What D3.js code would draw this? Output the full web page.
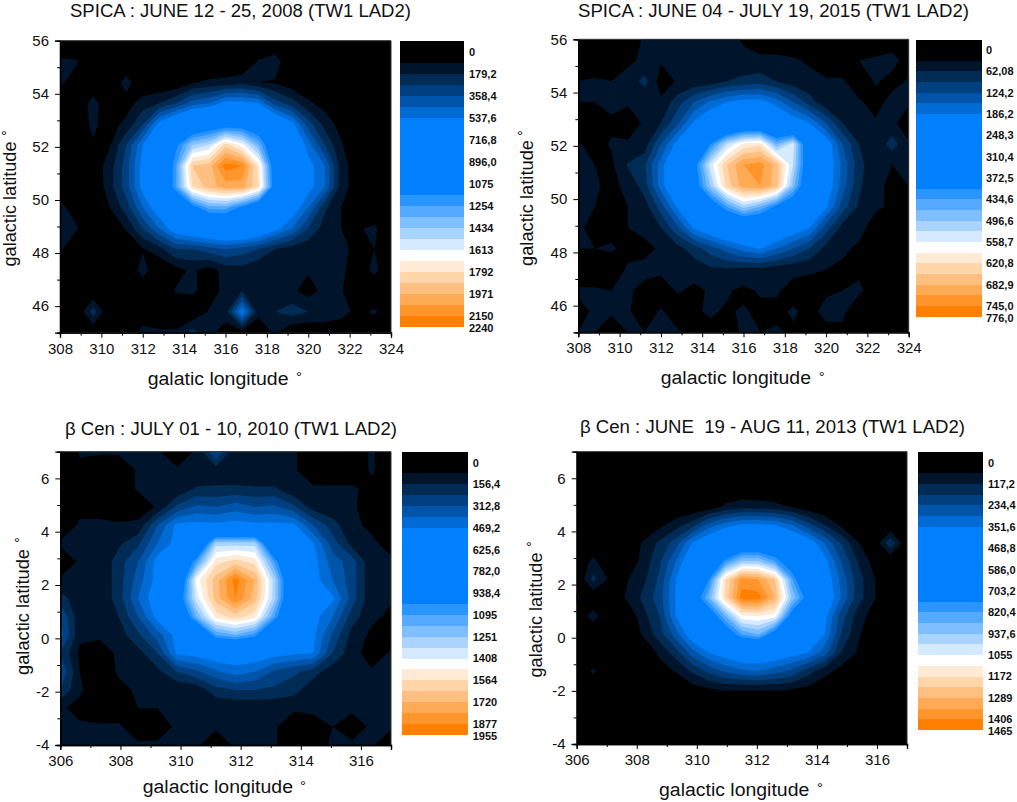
<!DOCTYPE html>
<html>
<head>
<meta charset="utf-8">
<script src="https://cdnjs.cloudflare.com/ajax/libs/d3/7.8.5/d3.min.js"></script>
<style>
  html, body { margin: 0; padding: 0; background: #fff; }
  text { font-family: "Liberation Sans", Arial, sans-serif; fill: #111; }
</style>
</head>
<body>
<div id="chart"></div>
<script>
var bandColors = ["#000000","#000000","#00152b","#002b55","#004080","#0055aa","#006bd5",
    "#0080ff","#0080ff","#0080ff","#0080ff","#0080ff","#0080ff","#0080ff",
    "#2b95ff","#55aaff","#80bfff","#aad4ff","#d5eaff","#ffffff",
    "#ffead5","#ffd5aa","#ffbf80","#ffaa55","#ff952b","#ff8000"];

var labels2008 = ["0","179,2","358,4","537,6","716,8","896,0","1075","1254","1434","1613","1792","1971","2150","2240"];
var labels2015 = ["0","62,08","124,2","186,2","248,3","310,4","372,5","434,6","496,6","558,7","620,8","682,9","745,0","776,0"];
var labels2010 = ["0","156,4","312,8","469,2","625,6","782,0","938,4","1095","1251","1408","1564","1720","1877","1955"];
var labels2013 = ["0","117,2","234,4","351,6","468,8","586,0","703,2","820,4","937,6","1055","1172","1289","1406","1465"];

var spicaLon = [308, 324], spicaLat = [45, 56];
var cenLon = [306, 317], cenLat = [-4, 7];
var spicaLatMajor = [46,48,50,52,54,56], spicaLatMinor = [45,47,49,51,53,55];
var cenLatMajor = [-4,-2,0,2,4,6], cenLatMinor = [-3,-1,1,3,5,7];

var grid2008 = [
 [0,0,0,0,0,0,0,0,0,0,0,0,0,0,0,0,0,0,0,0,0],
 [1.2,1.1,0,0,0,0,0,0,0,0,0,0,1.1,1.5,0,0,0,0,0,0,0],
 [1.2,.5,0,0,1.5,0,0,0,.9,1.2,1.3,1.6,1,.9,.3,0,0,0,0,0,0],
 [0,0,1.5,0,.5,1.5,2,3,4.5,5,6.5,6.5,6,3.5,2.5,1.2,.6,0,0,0,0],
 [1.1,.4,1.2,.5,1.3,3,6.5,8.5,10,11,11.5,11.5,10.5,8.5,6.5,3.5,1.6,.6,0,0,0],
 [0,.3,.9,.9,3,6,8,12.5,16,17,20.5,18.5,15,10,8,5.5,3,1.1,0,0,0],
 [0,0,.3,1.5,3.5,6.5,8.5,14,21,21.5,24.5,24,19.5,11,8.5,6.5,5,1.5,.3,0,0],
 [0,0,0,1.6,3.5,6.5,9,14,20,21.5,22.5,22.5,20,11.5,8.5,6.5,5,1.4,.5,0,0],
 [1.3,.5,0,1,2.5,5,7,9,12,14.5,14.5,12.5,10,8.5,7,5,2.2,1,.3,0,0],
 [1.5,1.1,0,0,1.1,3,5,7,8,8.5,9,9,8,6.5,5,3,1.5,1,.9,1.2,0],
 [1.2,0,0,0,0,.9,1.6,3,3,3.5,4,3.5,3,2,1.5,1.2,1,1.6,.3,1,0],
 [0,0,0,0,0,1.5,0,.6,1.2,.5,1.4,1.6,1,1.1,1,1.1,1.2,1.2,.4,1.3,0],
 [0,0,0,0,0,0,0,1.1,1.2,.5,1.3,2,1.1,1.1,1.2,.6,1.3,1.1,0,0,0],
 [0,0,2.5,0,0,0,0,0,0,1.1,1.5,6.2,1.2,2,2.5,2,2,1.5,.6,1.2,0],
 [0,0,0,0,0,1.5,1.2,1.2,2.5,1.3,.5,.4,.5,1.1,0,0,0,0,0,0,0]
];
var grid2015 = [
 [0,0,0,.5,1.1,1.1,1.2,1.2,1.3,1.3,.9,.5,.5,.4,.5,.5,.5,.3,.5,.5,.5],
 [.2,.5,.3,.9,1.1,1.1,1.2,1.2,1.2,1.2,1.2,1.2,1.2,1.1,.9,.5,.5,1,1.1,1.3,.6],
 [1,1.1,1,1.2,2.4,.5,1.1,1.2,1.4,2,2.3,2.5,2,1.4,1.2,1.1,1.1,.5,1.1,.7,1.1],
 [1,1,1.3,1.1,1.1,1.2,2.5,4,5.2,6,6.5,6.5,5.5,4,2.5,1.2,1.1,1.1,.7,1.3,1.1],
 [.5,.4,.8,.6,1.1,2,3.8,6.2,7.5,8,9,9,8,7,6,4,2,1.6,1.1,1.2,.5],
 [1.1,.6,1.1,1.1,1.4,4,6.5,9,13,17,19.2,19.6,15,17.5,10,7,4,2,1.2,2.5,1.1],
 [1.1,1,.8,2.1,2.8,5.5,8,12,17.5,21,23,23.5,21.5,17,10.5,7.2,4.7,2.4,1.1,1,1],
 [1,1.1,.8,1.2,2.5,5.5,8,11.5,16,20.5,22.5,23,21.5,15.5,10,7,4.5,2.2,1.1,.9,1],
 [1.1,1,.9,1,1.5,3.5,6.2,8.5,11,14,16.5,15,12.5,10.5,8,6.2,3.5,1.8,1.1,.9,.8],
 [1.1,.8,.7,1,1.2,2,3.8,6.2,7.5,8.5,9,9,8,7,6,3.5,1.6,1.2,.7,.8,.6],
 [1,1,1.1,.8,.8,1.1,1.6,2.5,3.5,4.5,5.5,6.1,5,4,3,1.6,1.1,.9,.8,.6,.6],
 [.5,.4,.5,1.1,1.2,1.2,1.2,1.4,1.8,1.8,1.7,1.6,1.4,1.2,1.1,1,.9,.9,.6,.6,.5],
 [1.1,1.1,1,1.1,.8,.5,1.1,.8,1.1,1.1,.8,1.1,1.1,.7,.7,.9,1,1.1,.7,.7,.8],
 [.8,1.1,1.1,1.1,.5,1.1,.5,.9,1.1,.9,1.1,.8,.8,1.1,.8,1.2,1.1,.6,.8,.8,.8],
 [1,1,.6,1,1,1.1,1.1,.7,.8,.7,1.1,1,1.1,.9,.8,.8,.9,.8,.8,.8,.8]
];
var grid2010 = [
 [0,1.1,1.1,1.1,1.1,1.1,.5,1.1,4,1.2,1.1,1.1,1.1,.5,.5,.5,1.1,.5],
 [.5,.8,.5,.5,1.1,1.1,1.1,1.1,1.5,1.1,1.1,1.1,1.1,.5,.5,.5,1.1,.5],
 [1.1,.5,.5,.5,1.1,1.1,1.1,2.1,2.1,2.2,2.1,2.1,1.1,1.1,1.1,1.1,.8,.5],
 [.5,.8,.8,.5,.5,1.1,3.2,4.2,4,4.5,4,4.2,3.2,1.5,1.1,1.1,.7,.5],
 [.5,1.1,1.1,1.1,1.2,4,6.3,6.4,6.3,6.5,6.3,6.3,6.2,4,2.5,1.1,.9,.6],
 [1.1,1.1,1.1,1.8,2.8,5,6.5,8,16.5,16.5,16.5,8.5,6.5,6.1,3.5,1.6,1.1,.8],
 [.5,1.1,1.1,2.5,4,6.5,9,14,19.6,20.5,19.6,14,8,6.5,4.5,3.5,1.2,1.1],
 [1.1,1.1,1.1,2.5,4.5,6.5,9,18.5,21.5,24.5,22,16.5,9,6.5,5,3.5,1.2,1.1],
 [2.5,1.2,1.1,2.5,5,7,11,17.5,21.5,24,21.5,16.5,9,7,6.2,3.5,1.2,1.1],
 [4,1.3,1.1,2,4,6.5,9,15,19.4,20.5,19.4,14,8,6.5,5,2.5,1.2,.8],
 [4.5,1.2,1.1,1.5,2.8,4.5,6.5,8,14,15,13.5,8,7,6.3,3.8,1.6,.8,.5],
 [3,.8,.7,1.1,1.6,3,6.2,6.5,7,7,7,6.5,6.2,6,3,1.3,.6,1.1],
 [4,1,.5,1.1,1.1,1.7,3,3.8,4.8,5.5,5,3.8,3.2,2.5,1.3,1.1,1.1,1.1],
 [3,1.1,.5,.8,1.1,1.1,1.1,1.3,2.6,3,3,2.8,2.4,1.2,1.1,1.1,1.1,1.1],
 [1.1,.8,.5,.6,1,1,1.1,1.1,1.1,1.1,1.1,1.1,1.1,1.1,1.1,1.1,1.1,1.1],
 [1.1,1.1,1.1,1.1,.6,.7,1.1,1.1,1.1,1.1,1.1,1.1,.5,.8,1,.7,1.1,1.1],
 [1.1,1.1,1.1,1.1,1.1,1.1,1.1,1.1,.6,1.1,1.1,1.1,.5,.7,1.1,1.1,1.1,.5]
];
var grid2013 = [
 [0,0,0,0,0,0,0,0,0,0,0,0,0,0,0,0,0,0,0,0,0],
 [0,0,0,0,0,0,0,0,0,0,0,0,0,0,0,0,0,0,0,0,0],
 [0,0,0,0,0,0,0,0,0,0,0,0,0,0,0,0,0,0,0,0,0],
 [0,0,0,0,0,0,0,0,.3,1.2,1.6,1.5,1.3,.9,.3,0,0,0,0,0,0],
 [0,0,0,0,.1,.7,1.5,2.5,4.4,5.5,6.1,6.2,6,5,3.4,2,.8,0,0,0,0],
 [0,0,0,.1,1.1,2.2,3.5,6.1,7.5,8.5,10,10,9.5,8,7,5,3,1.1,.2,2.8,0],
 [0,1.3,0,.2,1.3,2.8,5,7.5,10,13.5,16,16,14,11,8,6.5,4,2,.6,0,0],
 [0,2.3,.8,.9,1.7,3.2,6,8.5,13,20,23.5,23,21,14.5,9,7,4.8,2.5,1.1,0,0],
 [1.3,0,.2,1.1,2.2,3.5,6.1,11,15,20.2,24.5,24.5,22,16,12,7.5,5,2.5,1.1,0,0],
 [0,1.5,0,0,1.6,3,6,8.5,11,15,18.8,19,18.5,12,8.5,6.5,3.5,1.6,.5,0,0],
 [1.1,0,0,0,1.1,2.5,4.5,7,8.5,11,14,15,11.5,9,7.5,6,3,1.2,.1,0,0],
 [0,0,0,0,0,1.2,2.5,4.5,6,6.8,7.5,7.5,7.2,6.6,6,4.5,2,.9,0,0,0],
 [0,1.2,0,0,0,.5,1.1,2.2,3.3,4.2,4.8,5,4.5,3.8,2.5,1.4,.6,0,0,0,0],
 [0,0,0,0,0,0,0,.5,.9,1.1,1.1,1.1,1.1,1,.7,.2,0,0,0,0,0],
 [0,0,0,0,0,0,0,0,0,0,0,0,0,0,0,0,0,0,0,0,0],
 [0,0,0,0,0,0,0,0,0,0,0,0,0,0,0,0,0,0,0,0,0],
 [0,0,0,0,0,0,0,0,0,0,0,0,0,0,0,0,0,0,0,0,0]
];

var width = 1017, height = 802;
var svg = d3.select("#chart").append("svg")
    .attr("width", width)
    .attr("height", height)
    .style("display", "block");

var panels = [
  {id: "p1", title: "SPICA : JUNE 12 - 25, 2008 (TW1 LAD2)", tx: [70, 411], ty: 17,
   grid: grid2008, labels: labels2008, lon: spicaLon, lat: spicaLat, latMajor: spicaLatMajor, latMinor: spicaLatMinor,
   x0: 60, x1: 391, y0: 40.7, y1: 332.7,
   lx0: 399.5, lx1: 464, ly0: 41, ly1: 327, llx: 469,
   xName: "galatic longitude", xt: [147.7, 288.5], xb: 385, xdeg: [299, 373],
   yb: 15.7, yc: 204, yw: 125, ydeg: [4, 132]},
  {id: "p2", title: "SPICA : JUNE 04 - JULY 19, 2015 (TW1 LAD2)", tx: [578, 969], ty: 17,
   grid: grid2015, labels: labels2015, lon: spicaLon, lat: spicaLat, latMajor: spicaLatMajor, latMinor: spicaLatMinor,
   x0: 578.3, x1: 908.7, y0: 39.3, y1: 332.3,
   lx0: 916.3, lx1: 981.7, ly0: 39.5, ly1: 316.7, llx: 986,
   xName: "galactic longitude", xt: [660.7, 811], xb: 384, xdeg: [821.7, 373],
   yb: 532.7, yc: 203, yw: 126, ydeg: [520, 132]},
  {id: "p3", title: "\u03b2 Cen : JULY 01 - 10, 2010 (TW1 LAD2)", tx: [65, 397], ty: 435,
   grid: grid2010, labels: labels2010, lon: cenLon, lat: cenLat, latMajor: cenLatMajor, latMinor: cenLatMinor,
   x0: 60.3, x1: 391, y0: 451.7, y1: 745,
   lx0: 402.3, lx1: 467.7, ly0: 451.7, ly1: 734.7, llx: 472.7,
   xName: "galactic longitude", xt: [142.7, 293], xb: 793, xdeg: [303, 782],
   yb: 29, yc: 612, yw: 126, ydeg: [17, 539]},
  {id: "p4", title: "\u03b2 Cen : JUNE  19 - AUG 11, 2013 (TW1 LAD2)", tx: [580, 965], ty: 433,
   grid: grid2013, labels: labels2013, lon: cenLon, lat: cenLat, latMajor: cenLatMajor, latMinor: cenLatMinor,
   x0: 576.7, x1: 907, y0: 451.7, y1: 744,
   lx0: 918, lx1: 983.3, ly0: 452, ly1: 730, llx: 988,
   xName: "galactic longitude", xt: [659, 809.3], xb: 795.7, xdeg: [820, 784],
   yb: 541.7, yc: 615, yw: 125, ydeg: [529, 543]}
];

var thresholds = d3.range(1, 25);

panels.forEach(function(p){
    var rows = p.grid.length, cols = p.grid[0].length;
    var x = d3.scaleLinear().domain(p.lon).range([p.x0, p.x1]);
    var y = d3.scaleLinear().domain(p.lat).range([p.y1, p.y0]);

    // d3.contours puts node k at k+0.5, nodes span the whole plot
    var gx = d3.scaleLinear().domain([0.5, cols - 0.5]).range([p.x0, p.x1]);
    var gy = d3.scaleLinear().domain([0.5, rows - 0.5]).range([p.y0, p.y1]);
    var path = d3.geoPath(d3.geoTransform({
        point: function(a, b){ this.stream.point(gx(a), gy(b)); }
    }));

    var contours = d3.contours()
        .size([cols, rows])
        .thresholds(thresholds)(d3.merge(p.grid));

    svg.append("clipPath").attr("id", "clip-" + p.id)
        .append("rect")
        .attr("x", p.x0).attr("y", p.y0)
        .attr("width", p.x1 - p.x0).attr("height", p.y1 - p.y0);

    var g = svg.append("g");
    g.append("rect")
        .attr("x", p.x0).attr("y", p.y0)
        .attr("width", p.x1 - p.x0).attr("height", p.y1 - p.y0)
        .attr("fill", "#000");

    g.append("g").attr("clip-path", "url(#clip-" + p.id + ")")
        .selectAll("path")
        .data(contours)
        .enter().append("path")
        .attr("d", path)
        .attr("fill", function(d){ return bandColors[d.value + 1]; });

    // axes
    var xMajor = d3.range(p.lon[0], p.lon[1] + 1, 2);
    var xMinor = d3.range(p.lon[0] + 1, p.lon[1] + 1, 2);

    g.append("g").attr("transform", "translate(0," + p.y1 + ")")
        .call(d3.axisBottom(x).tickValues(xMajor).tickSize(5).tickPadding(5.5)
            .tickFormat(function(d){ return String(d); }))
        .call(styleAxis);
    g.append("g").attr("transform", "translate(0," + p.y1 + ")")
        .call(d3.axisBottom(x).tickValues(xMinor).tickSize(3).tickFormat(""))
        .call(styleAxis);
    g.append("g").attr("transform", "translate(" + p.x0 + ",0)")
        .call(d3.axisLeft(y).tickValues(p.latMajor).tickSize(5).tickPadding(6)
            .tickFormat(function(d){ return String(d); }))
        .call(styleAxis);
    g.append("g").attr("transform", "translate(" + p.x0 + ",0)")
        .call(d3.axisLeft(y).tickValues(p.latMinor).tickSize(3).tickFormat(""))
        .call(styleAxis);

    g.append("path")
        .attr("d", d3.line()([[p.x0, p.y0], [p.x1, p.y0], [p.x1, p.y1]]))
        .attr("fill", "none")
        .attr("stroke", "#333")
        .attr("stroke-width", 1);

    // titles
    svg.append("text")
        .attr("x", p.tx[0]).attr("y", p.ty)
        .attr("font-size", "17.5px")
        .attr("textLength", p.tx[1] - p.tx[0])
        .attr("lengthAdjust", "spacingAndGlyphs")
        .attr("xml:space", "preserve")
        .text(p.title);

    svg.append("text")
        .attr("x", p.xt[0]).attr("y", p.xb)
        .attr("font-size", "18px")
        .attr("textLength", p.xt[1] - p.xt[0])
        .attr("lengthAdjust", "spacingAndGlyphs")
        .text(p.xName);

    svg.append("text")
        .attr("transform", "translate(" + p.yb + "," + p.yc + ") rotate(-90)")
        .attr("text-anchor", "middle")
        .attr("font-size", "18px")
        .attr("textLength", p.yw)
        .attr("lengthAdjust", "spacingAndGlyphs")
        .text("galactic latitude");

    degree(p.xdeg[0], p.xdeg[1]);
    degree(p.ydeg[0], p.ydeg[1]);

    // colour bar
    var ly = d3.scaleLinear().domain([0, bandColors.length]).range([p.ly0, p.ly1]);
    svg.append("g").selectAll("rect")
        .data(bandColors)
        .enter().append("rect")
        .attr("x", p.lx0)
        .attr("y", function(d, i){ return ly(i); })
        .attr("width", p.lx1 - p.lx0)
        .attr("height", function(d, i){ return ly(i + 1) - ly(i) + (i < bandColors.length - 1 ? 1 : 0); })
        .attr("fill", function(d){ return d; })
        .attr("shape-rendering", "crispEdges");

    svg.append("g").selectAll("text")
        .data(p.labels)
        .enter().append("text")
        .attr("x", p.llx)
        .attr("y", function(d, i){
            return i === p.labels.length - 1 ? ly(26) + 1 : ly(2 * i + 1);
        })
        .attr("dy", "0.36em")
        .attr("font-size", "11px")
        .attr("font-weight", "bold")
        .text(function(d){ return d; });
});

function styleAxis(sel){
    sel.select(".domain").attr("stroke", "#000").attr("stroke-width", 1.3);
    sel.selectAll(".tick line").attr("stroke", "#000").attr("stroke-width", 1);
    sel.selectAll(".tick text")
        .attr("font-size", "15px")
        .attr("font-family", "Liberation Sans, Arial, sans-serif")
        .attr("fill", "#111");
}

function degree(cx, cy){
    svg.append("text")
        .attr("x", cx).attr("y", cy + 9)
        .attr("text-anchor", "middle")
        .attr("font-size", "15px")
        .text("\u00b0");
}
</script>
</body>
</html>
